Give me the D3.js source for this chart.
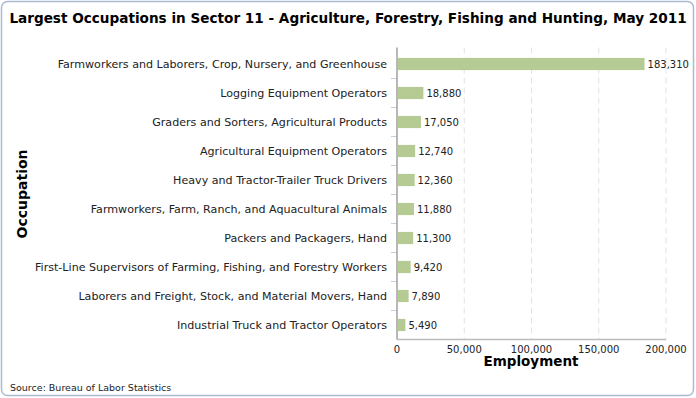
<!DOCTYPE html>
<html>
<head>
<meta charset="utf-8">
<script src="https://cdn.jsdelivr.net/npm/d3@7"></script>
<style>
body{margin:0;background:#fff;font-family:"DejaVu Sans",sans-serif;}
</style>
</head>
<body>
<svg id="chart" width="696" height="398"></svg>
<script>
const occupations = [
  'Farmworkers and Laborers, Crop, Nursery, and Greenhouse',
  'Logging Equipment Operators',
  'Graders and Sorters, Agricultural Products',
  'Agricultural Equipment Operators',
  'Heavy and Tractor-Trailer Truck Drivers',
  'Farmworkers, Farm, Ranch, and Aquacultural Animals',
  'Packers and Packagers, Hand',
  'First-Line Supervisors of Farming, Fishing, and Forestry Workers',
  'Laborers and Freight, Stock, and Material Movers, Hand',
  'Industrial Truck and Tractor Operators'
];
const employment = [183310, 18880, 17050, 12740, 12360, 11880, 11300, 9420, 7890, 5490];
const xTicks = [0, 50000, 100000, 150000, 200000];

const data = occupations.map((o,i)=>({occ:o,value:employment[i]}));
const fmt = d3.format(',');

const svg = d3.select('#chart');

svg.append('rect')
.attr('x',1.5).attr('y',1.5).attr('width',692).attr('height',394)
.attr('rx',6)
.attr('fill','#fff')
.attr('stroke','#a9bbd1')
.attr('stroke-width',1.5);

svg.append('text')
.attr('x',348).attr('y',23)
.attr('text-anchor','middle')
.style('font-size','13.6px').style('font-weight','bold')
.text('Largest Occupations in Sector 11 - Agriculture, Forestry, Fishing and Hunting, May 2011');

const plotL = 397, plotR = 666, plotT = 49.5, plotB = 339.5;

const xScale = d3.scaleLinear().domain([0,200000]).range([plotL,plotR]);
const yScale = d3.scaleBand().domain(occupations).range([plotT,plotB])
.paddingInner(0.58).paddingOuter(0.29);

// grid
svg.selectAll('.grid')
.data(xTicks.slice(1))
.enter()
.append('line')
.classed('grid',true)
.attr('x1',d=>xScale(d)).attr('x2',d=>xScale(d))
.attr('y1',plotT-2).attr('y2',plotB)
.attr('stroke','#e2e2e2')
.attr('stroke-dasharray','6,4');

svg.selectAll('.bar')
.data(data)
.enter()
.append('rect')
.classed('bar',true)
.attr('x',xScale(0)+1)
.attr('y',d=>yScale(d.occ))
.attr('width',d=>xScale(d.value)-xScale(0))
.attr('height',yScale.bandwidth())
.attr('fill','#b5cb93');

svg.selectAll('.val')
.data(data)
.enter()
.append('text')
.classed('val',true)
.attr('x',d=>xScale(d.value)+4)
.attr('y',d=>yScale(d.occ)+yScale.bandwidth()/2)
.attr('dy','0.35em')
.style('font-size','10px')
.attr('fill','#222')
.text(d=>fmt(d.value));

// y axis labels
svg.selectAll('.cat')
.data(occupations)
.enter()
.append('text')
.classed('cat',true)
.attr('x',plotL-10)
.attr('y',d=>yScale(d)+yScale.bandwidth()/2)
.attr('dy','0.35em')
.attr('text-anchor','end')
.style('font-size','11.1px')
.attr('fill','#222')
.text(d=>d);

// y ticks between categories
const step = yScale.step();
svg.selectAll('.ytick')
.data(d3.range(1,occupations.length))
.enter()
.append('line')
.classed('ytick',true)
.attr('x1',plotL-6).attr('x2',plotL)
.attr('y1',i=>plotT+i*step).attr('y2',i=>plotT+i*step)
.attr('stroke','#c0d0e4');

// axes lines
svg.append('line')
.attr('x1',plotL).attr('x2',plotL).attr('y1',plotT-2).attr('y2',plotB)
.attr('stroke','#888').attr('stroke-width',1.2);
svg.append('line')
.attr('x1',plotL).attr('x2',plotR).attr('y1',plotB).attr('y2',plotB)
.attr('stroke','#bbb').attr('stroke-width',1.5);

svg.selectAll('.xlab')
.data(xTicks)
.enter()
.append('text')
.classed('xlab',true)
.attr('x',d=>xScale(d))
.attr('y',plotB+13)
.attr('text-anchor','middle')
.style('font-size','10px')
.attr('fill','#222')
.text(d=>fmt(d));

svg.append('text')
.attr('x',531).attr('y',366)
.attr('text-anchor','middle')
.style('font-size','13.5px').style('font-weight','bold')
.text('Employment');

svg.append('text')
.attr('transform','translate(27,194) rotate(-90)')
.attr('text-anchor','middle')
.style('font-size','14px').style('font-weight','bold')
.text('Occupation');

svg.append('text')
.attr('x',10).attr('y',391)
.style('font-size','9.5px')
.attr('fill','#222')
.text('Source: Bureau of Labor Statistics');
</script>
</body>
</html>
